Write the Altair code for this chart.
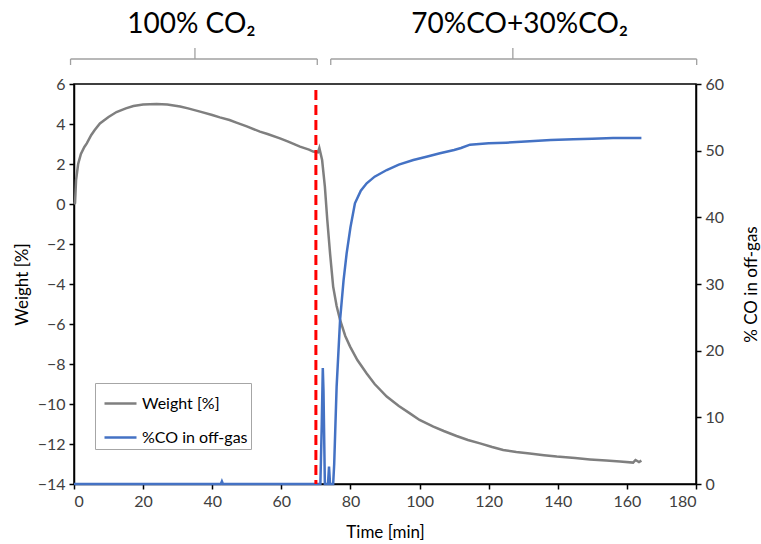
import altair as alt
import pandas as pd

# Sample weight change during the CO2 stage and after switching to CO/CO2
weight_time = [0, 0.3, 0.6, 1.2, 2, 3, 3.7, 5, 6, 7.5, 10, 12.3, 15, 17.2, 20, 23.9, 27,
               30.7, 33, 36.5, 40, 42.2, 45, 47, 50, 53.8, 56, 59.6, 62, 65.4, 68, 69.2,
               70, 70.6, 71, 71.8, 72.6, 73.3, 74.1, 75, 76, 77, 78.5, 79.9, 82, 84.7, 87,
               90.5, 94, 97.2, 100, 104, 107, 110.7, 114, 117.5, 121, 124.2, 128, 131.9,
               136, 139.7, 145, 149.3, 154, 158, 161.8, 162.5, 163.5, 164.2]
weight_pct = [0.0, 0.05, 1.2, 2.0, 2.5, 2.85, 3.03, 3.45, 3.7, 4.03, 4.35, 4.6, 4.78, 4.9,
              4.97, 5.0, 4.97, 4.87, 4.78, 4.62, 4.45, 4.33, 4.2, 4.07, 3.88, 3.62, 3.5,
              3.28, 3.12, 2.87, 2.72, 2.62, 2.6, 2.58, 2.8, 2.2, 0.87, -0.8, -2.47, -4.13,
              -5.1, -5.8, -6.6, -7.13, -7.8, -8.47, -9.0, -9.63, -10.1, -10.47, -10.8,
              -11.13, -11.35, -11.6, -11.8, -11.97, -12.15, -12.3, -12.4, -12.47, -12.56,
              -12.63, -12.7, -12.77, -12.83, -12.88, -12.93, -12.8, -12.9, -12.83]

# CO concentration measured in the off-gas
co_time = [0, 42.5, 42.8, 43.1, 70.9, 71.3, 71.7, 72.0, 72.2, 72.6, 73.5, 73.8, 74.1,
           75.0, 75.3, 75.6, 76, 77, 78, 78.9, 80, 81.3, 83, 84.7, 87, 90.5, 94, 98.2,
           102, 105.9, 110, 112, 114.6, 120, 125, 131.9, 138, 144.5, 150, 156, 160, 164.2]
co_pct = [0, 0, 0.4, 0, 0, 0, 9, 17.4, 14, 0, 0, 2.6, 0, 0, 3, 8, 14.6, 24.6, 30.5,
          34.6, 38.5, 42.1, 44, 45.1, 46.1, 47.1, 47.9, 48.6, 49.1, 49.6, 50.1, 50.4,
          50.9, 51.1, 51.2, 51.4, 51.6, 51.7, 51.8, 51.9, 51.9, 51.9]

series_names = ["Weight [%]", "%CO in off-gas"]
series_colors = ["#7F7F7F", "#4472C4"]

# Gas atmosphere stages shown as braces above the plot
stage_labels = ["100% CO₂", "70%CO+30%CO₂"]
stage_start = [-1, 74.3]
stage_end = [70.4, 180.2]
stage_mid = [35, 127]
stage_label_pos = [34, 129]
switch_time = [70]

FONT = "Lato"

w_df = pd.DataFrame({"t": weight_time, "v": weight_pct, "series": series_names[0]})
co_df = pd.DataFrame({"t": co_time, "v": co_pct, "series": series_names[1]})
stage_df = pd.DataFrame({"t": stage_start, "t2": stage_end, "mid": stage_mid,
                         "lab": stage_label_pos, "label": stage_labels})
ends_df = pd.DataFrame({"t": stage_start + stage_end})
switch_df = pd.DataFrame({"t": switch_time})

x_enc = alt.X("t:Q", scale=alt.Scale(domain=[0, 180], nice=False),
              axis=alt.Axis(values=list(range(0, 181, 20)), title="Time [min]",
                            titleX=311, titleY=48, titleBaseline="middle"))

color = alt.Color(
    "series:N",
    scale=alt.Scale(domain=series_names, range=series_colors),
    legend=alt.Legend(title=None, orient="none", legendX=21, legendY=299,
                      symbolType="stroke", symbolSize=1024, symbolStrokeWidth=2.5,
                      symbolOffset=5, labelFontSize=16, labelFont=FONT,
                      labelColor="#000000", strokeColor="#A6A6A6", fillColor="white",
                      padding=3, rowPadding=8, labelOffset=4),
)

weight_line = alt.Chart(w_df).mark_line(strokeWidth=2.5).encode(
    x=x_enc,
    y=alt.Y("v:Q", scale=alt.Scale(domain=[-14, 6], nice=False),
            axis=alt.Axis(values=list(range(-14, 7, 2)), title="Weight [%]",
                          orient="left", titleAngle=270, titleX=-52, titleY=200,
                          titleBaseline="middle", titleAlign="center")),
    color=color,
)

co_line = alt.Chart(co_df).mark_line(strokeWidth=2.5).encode(
    x=x_enc,
    y=alt.Y("v:Q", scale=alt.Scale(domain=[0, 60], nice=False),
            axis=alt.Axis(values=list(range(0, 61, 10)), title="% CO in off-gas",
                          orient="right", titleAngle=270, titleX=55, titleY=200,
                          titleBaseline="middle", titleAlign="center")),
    color=color,
)

switch_rule = alt.Chart(switch_df).mark_rule(
    color="#FF0000", strokeWidth=3, strokeDash=[10, 5]
).encode(x=x_enc, y=alt.value(6), y2=alt.value(400))

brace_color = "#A0A0A0"
brace_h = alt.Chart(stage_df).mark_rule(color=brace_color, strokeWidth=1.3).encode(
    x=x_enc, x2="t2:Q", y=alt.value(-25))
brace_ends = alt.Chart(ends_df).mark_rule(color=brace_color, strokeWidth=1.3).encode(
    x=x_enc, y=alt.value(-25), y2=alt.value(-19))
brace_mid = alt.Chart(stage_df).mark_rule(color=brace_color, strokeWidth=1.3).encode(
    x=alt.X("mid:Q", scale=alt.Scale(domain=[0, 180], nice=False)),
    y=alt.value(-36), y2=alt.value(-25))
stage_text = alt.Chart(stage_df).mark_text(
    fontSize=28, font=FONT, color="#000000", baseline="alphabetic", align="center"
).encode(x=alt.X("lab:Q", scale=alt.Scale(domain=[0, 180], nice=False)),
         y=alt.value(-51), text="label:N")

chart = alt.layer(
    weight_line, co_line, switch_rule, brace_h, brace_ends, brace_mid, stage_text
).resolve_scale(y="independent").properties(
    width=622, height=400,
    autosize=alt.AutoSizeParams(type="none"),
    padding={"left": 74, "top": 84, "right": 65, "bottom": 60},
).configure_view(
    stroke="#000000", strokeWidth=1.5
).configure_axis(
    grid=False, domainColor="#000000", domainWidth=1.5, tickColor="#000000",
    tickWidth=1.5, tickSize=5, labelFont=FONT, labelFontSize=16,
    labelColor="#404040", titleFont=FONT, titleFontSize=17, titleFontWeight="normal",
    titleColor="#000000", labelPadding=4,
)

chart.save("out.html", embed_options={"renderer": "svg", "actions": False})
